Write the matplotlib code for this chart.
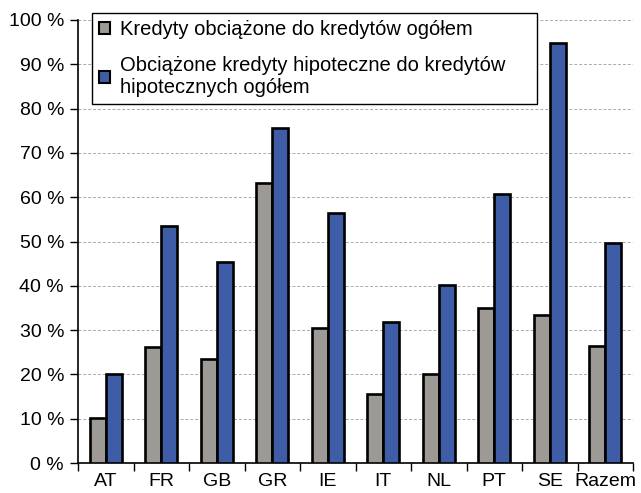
import numpy as np
import matplotlib.pyplot as plt
from matplotlib.patches import Patch

# data (percent)
countries = ['AT', 'FR', 'GB', 'GR', 'IE', 'IT', 'NL', 'PT', 'SE', 'Razem']
all_loans = [10.2, 26.2, 23.5, 63.2, 30.5, 15.6, 20.1, 34.9, 33.5, 26.4]
mortgage = [20.2, 53.5, 45.4, 75.6, 56.4, 31.8, 40.2, 60.7, 94.7, 49.7]
yticks = list(range(0, 101, 10))
ylabels = [f'{v} %' for v in yticks]

label_all = 'Kredyty obciążone do kredytów ogółem'
label_mort = 'Obciążone kredyty hipoteczne do kredytów\nhipotecznych ogółem'

grey = '#9d9a95'
blue = '#3f5da6'

plt.rcParams['font.family'] = ['Liberation Sans', 'DejaVu Sans']

fig = plt.figure(figsize=(6.41, 4.93), dpi=100)
ax = fig.add_axes([78 / 641, 1 - 463 / 493, 555 / 641, 443 / 493])

x = np.arange(len(countries))
w = 0.29
ax.bar(x - w / 2, all_loans, w, color=grey, edgecolor='black', linewidth=1.9, zorder=3)
ax.bar(x + w / 2, mortgage, w, color=blue, edgecolor='black', linewidth=1.9, zorder=3)

ax.set_xlim(-0.5, len(countries) - 0.5)
ax.set_ylim(0, 100)
ax.set_yticks(yticks)
ax.set_yticklabels(ylabels, fontsize=14)
ax.set_xticks(x)
ax.set_xticklabels(countries, fontsize=14)
ax.set_xticks(np.arange(-0.5, len(countries), 1), minor=True)
ax.tick_params(axis='x', which='major', length=0, pad=7)
ax.tick_params(axis='x', which='minor', length=6, width=1, direction='out')
ax.tick_params(axis='y', length=6, width=1, pad=4)

ax.grid(axis='y', linestyle=(0, (3, 2)), color='#aaaaaa', linewidth=0.7, zorder=0)
ax.spines['top'].set_visible(False)
ax.spines['right'].set_visible(False)
ax.spines['left'].set_linewidth(1.2)
ax.spines['bottom'].set_linewidth(1.2)

# legend box spans roughly x 92..537 px, top at 13 px
handles = [Patch(facecolor=grey, edgecolor='black', linewidth=1.5),
           Patch(facecolor=blue, edgecolor='black', linewidth=1.5)]
leg = fig.legend(handles, [label_all, label_mort], loc='upper left',
                 bbox_to_anchor=(92 / 641, 1 - 13 / 493, 445 / 641, 0.0001),
                 mode='expand', borderaxespad=0,
                 fontsize=14.5, frameon=True, fancybox=False, framealpha=1,
                 edgecolor='black', handlelength=0.55, handleheight=0.55,
                 handletextpad=0.5, labelspacing=0.85, borderpad=0.35)
leg.get_frame().set_linewidth(1.0)

fig.savefig('out.png', dpi=100)
